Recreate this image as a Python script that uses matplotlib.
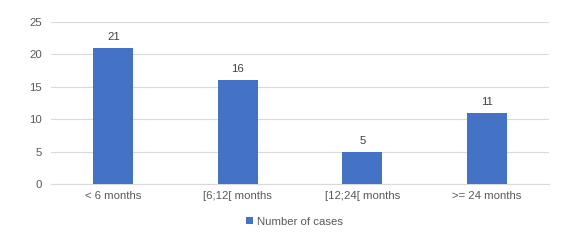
import matplotlib.pyplot as plt
import numpy as np

plt.rcParams['font.family'] = ['Liberation Sans', 'DejaVu Sans']

categories = ["< 6 months", "[6;12[ months", "[12;24[ months", ">= 24 months"]
cases = [21, 16, 5, 11]
y_ticks = [0, 5, 10, 15, 20, 25]

BAR_COLOR = "#4472C4"
TEXT_COLOR = "#595959"
GRID_COLOR = "#D9D9D9"

fig = plt.figure(figsize=(5.61, 2.49), dpi=100)
ax = fig.add_axes([0.091, 0.261, 0.888, 0.651])

x = np.arange(len(categories))
bars = ax.bar(x, cases, width=0.32, color=BAR_COLOR, label="Number of cases", zorder=3)
for xi, v in zip(x, cases):
    ax.text(xi, v + 0.9, str(v), ha="center", va="bottom", fontsize=8.2, color="#404040")

ax.set_xlim(-0.5, len(categories) - 0.5)
ax.set_ylim(0, 25)
ax.set_yticks(y_ticks)
ax.set_xticks(x)
ax.set_xticklabels(categories)
ax.yaxis.grid(True, color=GRID_COLOR, linewidth=0.8, zorder=0)
ax.tick_params(axis="both", length=0, labelsize=8.2, colors=TEXT_COLOR, pad=5)
ax.tick_params(axis="y", pad=6.5)
for side in ["top", "right", "left"]:
    ax.spines[side].set_visible(False)
ax.spines["bottom"].set_color(GRID_COLOR)
ax.spines["bottom"].set_linewidth(0.8)

fig.legend(handles=[bars], labels=["Number of cases"], loc="center",
           bbox_to_anchor=(0.525, 0.11), frameon=False, fontsize=8.2,
           handlelength=0.6, handleheight=0.6, handletextpad=0.3,
           labelcolor=TEXT_COLOR)

fig.savefig("out.png", dpi=100)
